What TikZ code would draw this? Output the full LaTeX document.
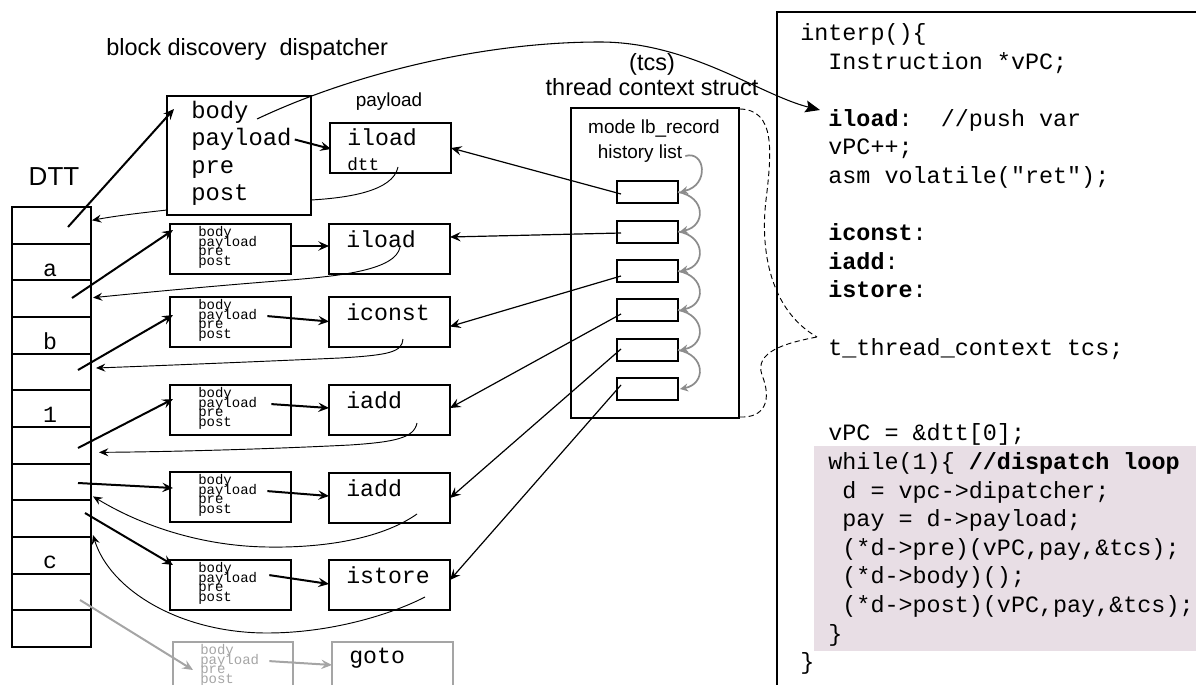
\documentclass[tikz,border=0pt]{standalone}
\usepackage{fontspec}
\setmainfont{Liberation Sans}
\setsansfont{Liberation Sans}
\setmonofont{Liberation Mono}
\usetikzlibrary{arrows.meta,calc}
\definecolor{loopbg}{RGB}{232,222,229}
\definecolor{hgray}{RGB}{140,140,140}
\definecolor{ggray}{RGB}{165,165,165}
\def\PX{0.75pt}
\newcommand\codeline[4]{\node[codett] (#1) at ({800+14.05*#2},{40.5+28.6*#3}) {#4};}
\tikzset{
  bx/.style={draw, line width=1.5pt, inner sep=0pt, outer sep=0pt, rectangle},
  cellbox/.style={bx, minimum width=79*\PX, minimum height=36.67*\PX},
  dbox/.style={bx, minimum width=121*\PX, minimum height=50*\PX},
  pbox/.style={bx, minimum width=121*\PX, minimum height=50*\PX},
  hbox/.style={bx, minimum width=61*\PX, minimum height=22*\PX},
  bigtt/.style={font=\fontsize{17.4}{20}\ttfamily, inner sep=0pt, anchor=base west},
  codett/.style={font=\fontsize{17.56}{20}\ttfamily, inner sep=0pt, anchor=base west},
  dtt/.style={font=\fontsize{17.9}{20}\ttfamily, inner sep=0pt, anchor=base west},
  smalltt/.style={font=\fontsize{10.5}{11}\ttfamily, inner sep=0pt, anchor=base west},
  lbl/.style={font=\fontsize{17.6}{20}\sffamily, inner sep=0pt, anchor=base},
  slbl/.style={font=\fontsize{14.2}{16}\sffamily, inner sep=0pt, anchor=base},
  thk/.style={line width=1.5pt, -{Stealth[length=8pt,width=7pt,inset=3pt]}},
  thn/.style={line width=0.9pt, -{Stealth[length=8pt,width=7pt,inset=3pt]}},
  ret/.style={line width=0.7pt, -{Stealth[length=7pt,width=6pt,inset=2.5pt]}},
  hist/.style={draw=hgray, line width=1.3pt, -{Stealth[length=6pt,width=6pt,inset=2pt,fill=hgray]}},
  dsh/.style={line width=0.7pt, dash pattern=on 4pt off 2.5pt},
}
\begin{document}
\begin{tikzpicture}[x=0.75pt,y=-0.75pt]
\useasboundingbox (0,0) rectangle (1196,685);
\clip (0,0) rectangle (1196,685);

% ---------- code panel ----------
\fill[loopbg] (814,446) rectangle (1196,651);
\draw[line width=0.8pt] (777,690) -- (777,12) -- (1200,12);
\codeline{c0}{0}{0}{interp()\{}
\codeline{c1}{2}{1}{Instruction *vPC;}
\codeline{c3}{2}{3}{\textbf{iload}:\ \ //push var}
\codeline{c4}{2}{4}{vPC++;}
\codeline{c5}{2}{5}{asm volatile("ret");}
\codeline{c7}{2}{7}{\textbf{iconst}:}
\codeline{c8}{2}{8}{\textbf{iadd}:}
\codeline{c9}{2}{9}{\textbf{istore}:}
\codeline{c11}{2}{11}{t\_thread\_context tcs;}
\codeline{c14}{2}{14}{vPC = \&dtt[0];}
\codeline{c15}{2}{15}{while(1)\{ \textbf{//dispatch loop}}
\codeline{c16}{3}{16}{d = vpc->dipatcher;}
\codeline{c17}{3}{17}{pay = d->payload;}
\codeline{c18}{3}{18}{(*d->pre)(vPC,pay,\&tcs);}
\codeline{c19}{3}{19}{(*d->body)();}
\codeline{c20}{3}{20}{(*d->post)(vPC,pay,\&tcs);}
\codeline{c21}{2}{21}{\}}
\codeline{c22}{0}{22}{\}}

% ---------- labels ----------
\node[lbl, anchor=base west] (title) at (106,56) {block discovery\ \ dispatcher};
\node[font=\fontsize{19.5}{22}\sffamily, inner sep=0pt, anchor=base] (dttl) at (54,185) {DTT};
\node[slbl] (payl) at (389,107) {payload};
\node[lbl] (tcsl) at (652,71) {(tcs)};
\node[lbl] (tcsn) at (652,96) {thread context struct};
\node[slbl] (mode) at (654,133) {mode lb\_record};
\node[slbl] (histl) at (640,158) {history list};

% ---------- DTT ----------
\foreach \r in {0,...,11}
  \node[cellbox] (t\r) at (51.5,{207+36.67*\r+18.33}) {};
\node[bigtt, anchor=base] (la) at (50,276) {a};
\node[bigtt, anchor=base] (lb) at (50,349) {b};
\node[bigtt, anchor=base] (l1) at (50,422) {1};
\node[bigtt, anchor=base] (lc) at (50,568) {c};

% ---------- dispatchers ----------
\node[bx, minimum width=144*\PX, minimum height=119*\PX] (d0) at (239,155.5) {};
\node[dtt] (d0body) at (191,118) {body};
\node[dtt] (d0pay) at (191,145.5) {payload};
\node[dtt] (d0pre) at (191,173) {pre};
\node[dtt] (d0post) at (191,200.5) {post};
\foreach \i/\yy in {1/224,2/297,3/385,4/472,5/560}{
  \node[dbox] (d\i) at (230.5,\yy+25) {};
  \foreach \w [count=\k from 0] in {body,payload,pre,post}
    \node[smalltt] (d\i-\k) at (198,{\yy+12.5+9.6*\k}) {\w};
}
\node[dbox, draw=ggray, minimum width=120*\PX] (dg) at (233,667) {};
\foreach \w [count=\k from 0] in {body,payload,pre,post}
  \node[smalltt, text=ggray] (dg-\k) at (200,{642+12.5+9.6*\k}) {\w};

% ---------- payloads ----------
\node[pbox] (p0) at (390.5,148) {};
\node[bigtt] (p0t) at (347,146) {iload};
\node[font=\fontsize{13.3}{15}\ttfamily, inner sep=0pt, anchor=base west] (p0d) at (347,170) {dtt};
\foreach \i/\yy/\w in {1/224/iload,2/297/iconst,3/385/iadd,4/473/iadd,5/560/istore}{
  \node[pbox] (p\i) at (389.5,\yy+25) {};
  \node[bigtt] (p\i t) at (346,\yy+23) {\w};
}
\node[pbox, draw=ggray] (pg) at (392.5,667) {};
\node[bigtt] (pgt) at (349,663) {goto};

% ---------- thread context struct ----------
\node[bx, minimum width=168*\PX, minimum height=310*\PX] (tcs) at (655,263) {};
\foreach \i/\c in {1/192,2/231.5,3/271,4/310,5/350,6/389}
  \node[hbox] (h\i) at (647.5,\c) {};

% gray history chain
\draw[hist] ($(histl.base east)+(3,-2)$) .. controls (705,150) and (710,185) .. ($(h1.east)+(2,0)$);
\draw[hist] (h1.east) .. controls (706,197) and (706,226) .. ($(h2.east)+(2,0)$);
\draw[hist] (h2.east) .. controls (706,236) and (706,266) .. ($(h3.east)+(2,0)$);
\draw[hist] (h3.east) .. controls (706,276) and (706,305) .. ($(h4.east)+(2,0)$);
\draw[hist] (h4.east) .. controls (706,315) and (706,345) .. ($(h5.east)+(2,0)$);
\draw[hist] (h5.east) .. controls (706,355) and (706,384) .. ($(h6.east)+(2,0)$);

% history -> payload
\draw[thn] ($(h1.west)+(4,2)$) -- (p0.east);
\draw[thn] ($(h2.west)+(4,1.5)$) -- ($(p1.east)+(0,-12)$);
\draw[thn] ($(h3.west)+(4,5)$) -- ($(p2.east)+(0,4.5)$);
\draw[thn] ($(h4.west)+(4,4)$) -- ($(p3.east)+(0,-2)$);
\draw[thn] ($(h5.west)+(4,-1)$) -- (p4.east);
\draw[thn] ($(h6.west)+(4,-4)$) -- ($(p5.east)+(0,-5)$);

% ---------- DTT -> dispatcher ----------
\coordinate (s0) at (68,227);
\coordinate (s2) at (72,298);
\coordinate (s4) at (78,370);
\coordinate (s6) at (78,448);
\coordinate (s7) at (78,483);
\coordinate (s8) at (85,513);
\coordinate (sg) at (80,600);
\draw[thk] (s0) -- ($(d0.north west)+(7,13)$);
\draw[thk] (s2) -- ($(d1.north west)+(3,6)$);
\draw[thk] (s4) -- ($(d2.north west)+(3,18)$);
\draw[thk] (s6) -- ($(d3.north west)+(3,14)$);
\draw[thk] (s7) -- ($(d4.north west)+(3,16)$);
\draw[thk] (s8) -- ($(d5.north west)+(3,5)$);
\draw[thk, draw=ggray, -{Stealth[length=8pt,width=7pt,inset=3pt,fill=ggray]}] (sg) -- ($(dg.north west)+(20,28)$);

% ---------- dispatcher -> payload ----------
\draw[thk] ($(d0pay.base east)+(3,-6)$) -- ($(p0.west)+(1,1)$);
\draw[thk] ($(d1.east)+(0,-3)$) -- ($(p1.west)+(0,-3)$);
\draw[thk] ($(d2-1.base east)+(10,-3)$) -- ($(p2.west)+(0,-0.5)$);
\draw[thk] ($(d3-1.base east)+(14,-3)$) -- ($(p3.west)+(0,-2)$);
\draw[thk] ($(d4-1.base east)+(10,-3)$) -- ($(p4.west)+(0,-2)$);
\draw[thk] ($(d5-1.base east)+(12,-7)$) -- ($(p5.west)+(0,-1)$);
\draw[thk, draw=ggray, -{Stealth[length=8pt,width=7pt,inset=3pt,fill=ggray]}] ($(dg-1.base east)+(10,-3)$) -- ($(pg.west)+(0,-2)$);

% ---------- payload -> DTT returns ----------
\coordinate (r0s) at (398,167);
\coordinate (r1s) at (400,247);
\coordinate (r2s) at (403,339);
\coordinate (r3s) at (417,423);
\coordinate (r4s) at (417,514);
\coordinate (r5s) at (425,597);
\draw[ret] (r0s) .. controls (393,192) and (345,198) .. ($(d0.east)+(0,44.5)$)
  ($(d0.west)+(0,54.5)$) .. controls (140,213) and (115,216) .. ($(t0.east)+(1,-5)$);
\draw[ret] (r1s) .. controls (396,270) and (340,276) .. (290,280) .. controls (200,287) and (130,294) .. ($(t2.east)+(2,-1)$);
\draw[ret] (r2s) .. controls (402,352) and (390,355) .. (340,358) .. controls (250,362) and (150,366) .. ($(t4.east)+(5,-4)$);
\draw[ret] (r3s) .. controls (414,438) and (395,442) .. (350,445) .. controls (250,450) and (150,452) .. ($(t6.east)+(8,7)$);
\draw[ret] (r4s) .. controls (380,540) and (320,548) .. (267,547) .. controls (200,546) and (140,525) .. ($(t8.north east)+(2,-4)$);
\draw[ret] (r5s) .. controls (390,615) and (330,633) .. (267,633) .. controls (180,633) and (110,590) .. ($(t9.north east)+(2,-2)$);

% ---------- big arc body -> iload ----------
\coordinate (arcS) at (257,119);
\coordinate (arcE) at (820,110);
\draw[line width=0.8pt, -{Stealth[length=11pt,width=9pt,inset=2pt]}] (arcS) .. controls (350,75) and (480,42) .. (600,42) .. controls (690,42) and (760,95) .. (arcE);

% ---------- dashed brace tcs -> t_thread_context ----------
\coordinate (dtip) at (817,337);
\draw[dsh] ($(tcs.north east)+(1,1)$) .. controls (775,110) and (772,150) .. (766,200) .. controls (760,250) and (770,310) .. (dtip);
\draw[dsh] ($(tcs.south east)+(1,-1)$) .. controls (765,418) and (772,400) .. (762,375) .. controls (754,352) and (785,343) .. (dtip);
\end{tikzpicture}
\end{document}
